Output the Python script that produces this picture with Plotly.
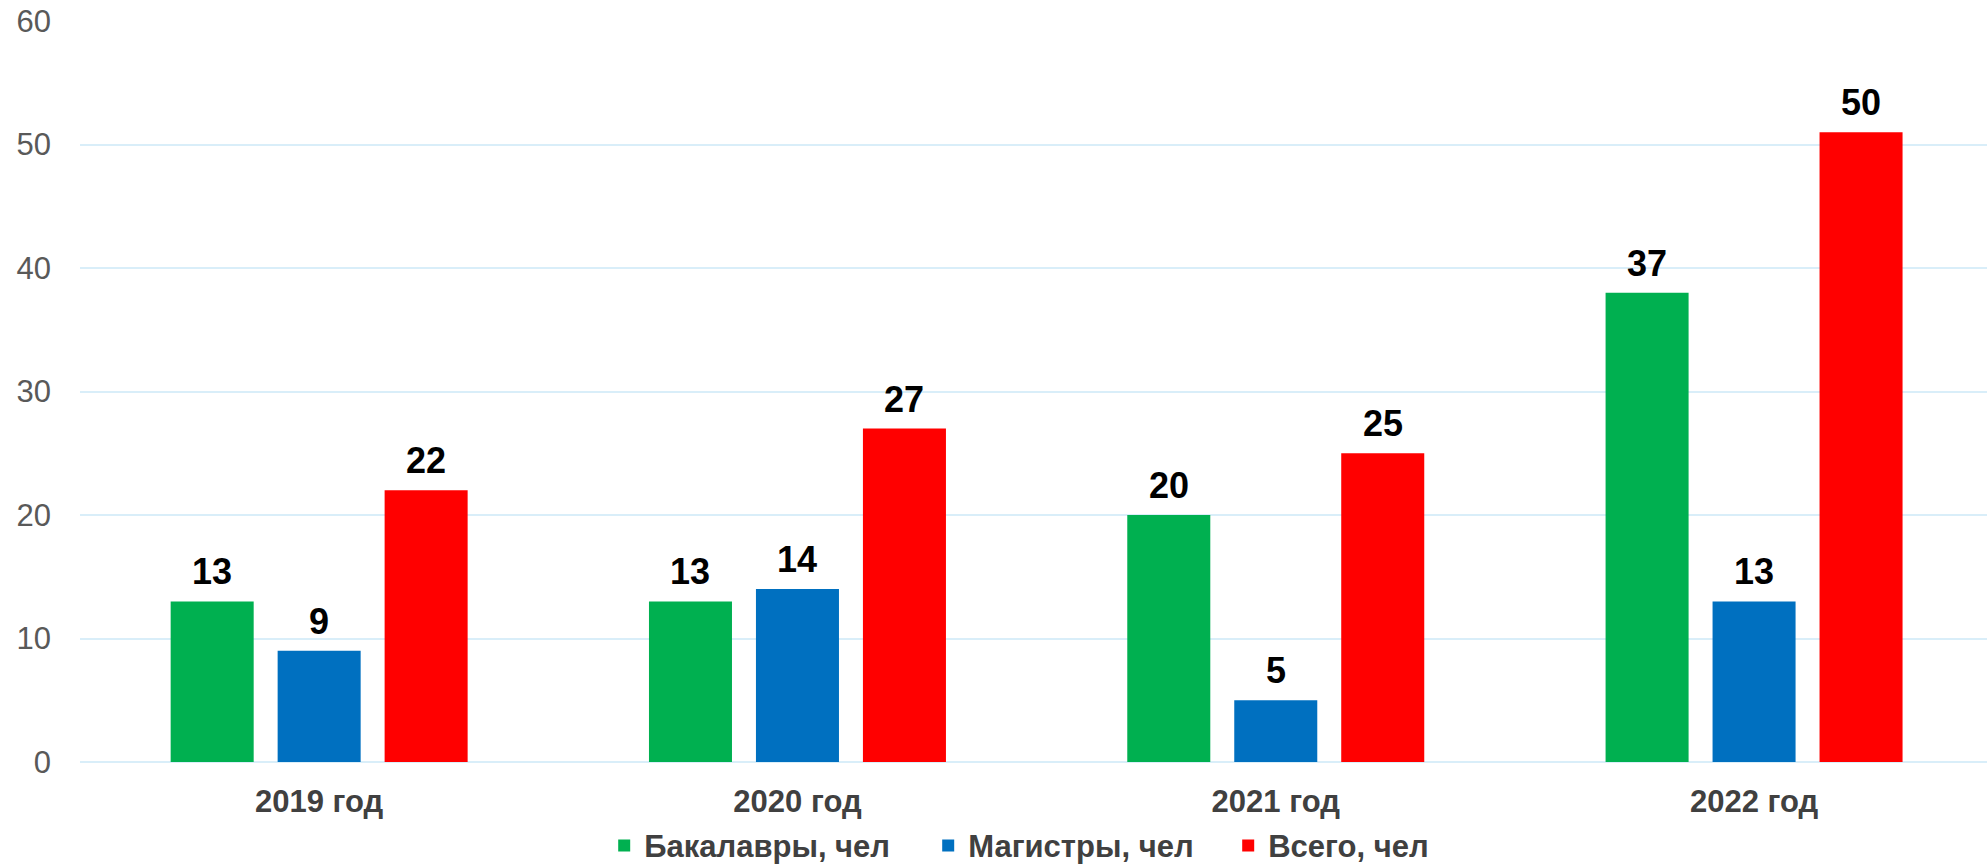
import plotly.graph_objects as go

categories = ["2019 год", "2020 год", "2021 год", "2022 год"]
series_names = ["Бакалавры, чел", "Магистры, чел", "Всего, чел"]
bachelors = [13, 13, 20, 38]
masters = [9, 14, 5, 13]
total = [22, 27, 25, 51]
bachelors_labels = ["13", "13", "20", "37"]
masters_labels = ["9", "14", "5", "13"]
total_labels = ["22", "27", "25", "50"]
y_ticks = [0, 10, 20, 30, 40, 50, 60]

colors = ["#00B050", "#0070C0", "#FF0000"]
legend_widths = [279, 255, None]
values = [bachelors, masters, total]
labels = [bachelors_labels, masters_labels, total_labels]

W, H = 1987, 867
ML, MR, MT, MB = 80, 0, 21, 105
XMAX = 3.487
BARGAP = 0.329
GROUPGAP = 0.224
FONT = "Arial, Liberation Sans, sans-serif"

fig = go.Figure()
for name, vals, col, lw in zip(series_names, values, colors, legend_widths):
    fig.add_trace(go.Bar(name=name, x=categories, y=vals, marker_color=col,
                         marker_line_width=0, legendwidth=lw))

band = (W - ML - MR) / (XMAX + 0.5)
slot = band * (1 - BARGAP) / len(series_names)
annotations = []
for i, (vals, labs) in enumerate(zip(values, labels)):
    for c, v, t in zip(categories, vals, labs):
        annotations.append(dict(x=c, y=v, text="<b>" + t + "</b>", showarrow=False,
                                xanchor="center", yanchor="bottom",
                                xshift=(i - 1) * slot, yshift=7,
                                font=dict(family=FONT, size=36, color="#000000")))

fig.update_layout(
    width=W, height=H,
    margin=dict(l=ML, r=MR, t=MT, b=MB, autoexpand=False),
    paper_bgcolor="white", plot_bgcolor="white",
    barmode="group", bargap=BARGAP, bargroupgap=GROUPGAP,
    font=dict(family=FONT, color="#595959"),
    annotations=annotations,
    showlegend=True,
    legend=dict(orientation="h", x=0.4925, xanchor="center", y=-0.113, yanchor="middle",
                font=dict(family=FONT, size=31, color="#404040", weight="bold"),
                itemwidth=30, tracegroupgap=0, bgcolor="rgba(0,0,0,0)"),
)
fig.update_xaxes(
    range=[-0.5, XMAX], showgrid=False, zeroline=False, showline=False,
    ticks="", ticklabelstandoff=18, automargin=False,
    tickfont=dict(family=FONT, size=31, color="#404040", weight="bold"),
)
fig.update_yaxes(
    range=[0, 60], tickvals=y_ticks, showgrid=True, gridcolor="#D9EEF9",
    gridwidth=2, zeroline=True, zerolinecolor="#D9EEF9", zerolinewidth=2,
    showline=False, ticks="", ticklabelstandoff=28, automargin=False,
    tickfont=dict(family=FONT, size=31, color="#595959"),
)
fig.write_html("out.html", config={"displayModeBar": False},
               post_script="document.body.style.margin='0';")
